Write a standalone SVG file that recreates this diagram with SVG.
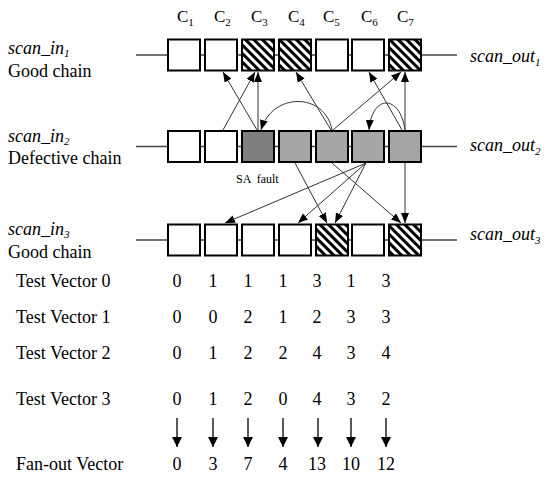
<svg xmlns="http://www.w3.org/2000/svg" width="550" height="481" viewBox="0 0 550 481">
<style>
text{font-family:"Liberation Serif","Times New Roman",serif;fill:#000}
.lbl{font-size:18px}
.it{font-size:18px;font-style:italic}
.sub{font-size:11px}
.hdr{font-size:17px}
.num{font-size:18px;text-anchor:middle}
.box{stroke:#000;stroke-width:2}
.w{fill:#fff}
.h{fill:url(#hatch)}
.d{fill:#7f7f7f}
.g{fill:#a6a6a6}
.chain{stroke:#444;stroke-width:1.3;fill:none}
.c{stroke:#333;stroke-width:1;fill:none;marker-end:url(#ah)}
.va{stroke:#000;stroke-width:1.3;marker-end:url(#ah2)}
</style>
<defs>
<pattern id="hatch" patternUnits="userSpaceOnUse" width="6" height="6" patternTransform="rotate(-45)">
<rect width="6" height="6" fill="#fff"/>
<rect width="3" height="6" fill="#000"/>
</pattern>
<marker id="ah" markerWidth="10" markerHeight="8" refX="10" refY="4" orient="auto" markerUnits="userSpaceOnUse">
<path d="M0,0 L10,4 L0,8 Z" fill="#000"/>
</marker>
<marker id="ah2" markerWidth="10" markerHeight="10" refX="10" refY="5" orient="auto" markerUnits="userSpaceOnUse">
<path d="M0,0 L10,5 L0,10 Z" fill="#000"/>
</marker>
</defs>

<g id="headers">
<text class="hdr" x="177" y="22">C<tspan class="sub" dy="4">1</tspan></text>
<text class="hdr" x="214" y="22">C<tspan class="sub" dy="4">2</tspan></text>
<text class="hdr" x="251" y="22">C<tspan class="sub" dy="4">3</tspan></text>
<text class="hdr" x="288" y="22">C<tspan class="sub" dy="4">4</tspan></text>
<text class="hdr" x="323" y="22">C<tspan class="sub" dy="4">5</tspan></text>
<text class="hdr" x="361" y="22">C<tspan class="sub" dy="4">6</tspan></text>
<text class="hdr" x="397" y="22">C<tspan class="sub" dy="4">7</tspan></text>
</g>

<g id="labels">
<text class="it" x="8" y="54">scan_in<tspan class="sub" dy="3">1</tspan></text>
<text class="lbl" x="8" y="77">Good chain</text>
<text class="it" x="8" y="142">scan_in<tspan class="sub" dy="3">2</tspan></text>
<text class="lbl" x="8" y="164">Defective chain</text>
<text class="it" x="8" y="235">scan_in<tspan class="sub" dy="3">3</tspan></text>
<text class="lbl" x="8" y="258">Good chain</text>
<text class="it" x="470" y="62">scan_out<tspan class="sub" dy="4">1</tspan></text>
<text class="it" x="470" y="151">scan_out<tspan class="sub" dy="4">2</tspan></text>
<text class="it" x="470" y="240">scan_out<tspan class="sub" dy="4">3</tspan></text>
<text x="236" y="183" style="font-size:12px;white-space:pre">SA  fault</text>
</g>

<g id="chains">
<line class="chain" x1="136" y1="55" x2="457" y2="55"/>
<line class="chain" x1="136" y1="146.5" x2="457" y2="146.5"/>
<line class="chain" x1="136" y1="240" x2="457" y2="240"/>
</g>

<g id="row1">
<rect class="box w" x="168" y="39.5" width="32" height="31"/>
<rect class="box w" x="205" y="39.5" width="32" height="31"/>
<rect class="box h" x="242" y="39.5" width="32" height="31"/>
<rect class="box h" x="279" y="39.5" width="32" height="31"/>
<rect class="box w" x="316" y="39.5" width="32" height="31"/>
<rect class="box w" x="352" y="39.5" width="32" height="31"/>
<rect class="box h" x="389" y="39.5" width="32" height="31"/>
</g>
<g id="row2">
<rect class="box w" x="168" y="131" width="32" height="31"/>
<rect class="box w" x="205" y="131" width="32" height="31"/>
<rect class="box d" x="242" y="131" width="32" height="31"/>
<rect class="box g" x="279" y="131" width="32" height="31"/>
<rect class="box g" x="316" y="131" width="32" height="31"/>
<rect class="box g" x="352" y="131" width="32" height="31"/>
<rect class="box g" x="389" y="131" width="32" height="31"/>
</g>
<g id="row3">
<rect class="box w" x="168" y="224.5" width="32" height="31"/>
<rect class="box w" x="205" y="224.5" width="32" height="31"/>
<rect class="box w" x="242" y="224.5" width="32" height="31"/>
<rect class="box w" x="279" y="224.5" width="32" height="31"/>
<rect class="box h" x="316" y="224.5" width="32" height="31"/>
<rect class="box w" x="352" y="224.5" width="32" height="31"/>
<rect class="box h" x="389" y="224.5" width="32" height="31"/>
</g>

<g id="connectors">
<line class="c" x1="223" y1="130" x2="255" y2="72"/>
<line class="c" x1="257" y1="130" x2="223" y2="72"/>
<line class="c" x1="258" y1="130" x2="258" y2="72"/>
<path class="c" d="M332,130 C325,92 272,92 261,130"/>
<line class="c" x1="331" y1="130" x2="296" y2="72"/>
<line class="c" x1="333" y1="130" x2="401" y2="72"/>
<path class="c" d="M405,130 C400,94 372,94 369,130"/>
<line class="c" x1="402" y1="130" x2="369" y2="72"/>
<line class="c" x1="405" y1="130" x2="405" y2="72"/>
<line class="c" x1="295" y1="163" x2="327" y2="223"/>
<line class="c" x1="332" y1="163" x2="401" y2="223"/>
<line class="c" x1="366" y1="163" x2="225" y2="223"/>
<line class="c" x1="366" y1="163" x2="298" y2="223"/>
<line class="c" x1="366" y1="163" x2="335" y2="223"/>
<line class="c" x1="405" y1="163" x2="405" y2="223"/>
</g>

<g id="vectors">
<text class="lbl" x="16" y="287">Test Vector 0</text>
<text class="lbl" x="16" y="323">Test Vector 1</text>
<text class="lbl" x="16" y="359">Test Vector 2</text>
<text class="lbl" x="16" y="405">Test Vector 3</text>
<text class="lbl" x="16" y="470">Fan-out Vector</text>
<g class="num">
<text class="num" x="177" y="287">0</text><text class="num" x="213" y="287">1</text><text class="num" x="248" y="287">1</text><text class="num" x="283" y="287">1</text><text class="num" x="317" y="287">3</text><text class="num" x="351" y="287">1</text><text class="num" x="386" y="287">3</text>
<text class="num" x="177" y="323">0</text><text class="num" x="213" y="323">0</text><text class="num" x="248" y="323">2</text><text class="num" x="283" y="323">1</text><text class="num" x="317" y="323">2</text><text class="num" x="351" y="323">3</text><text class="num" x="386" y="323">3</text>
<text class="num" x="177" y="359">0</text><text class="num" x="213" y="359">1</text><text class="num" x="248" y="359">2</text><text class="num" x="283" y="359">2</text><text class="num" x="317" y="359">4</text><text class="num" x="351" y="359">3</text><text class="num" x="386" y="359">4</text>
<text class="num" x="177" y="405">0</text><text class="num" x="213" y="405">1</text><text class="num" x="248" y="405">2</text><text class="num" x="283" y="405">0</text><text class="num" x="317" y="405">4</text><text class="num" x="351" y="405">3</text><text class="num" x="386" y="405">2</text>
<text class="num" x="177" y="470">0</text><text class="num" x="213" y="470">3</text><text class="num" x="248" y="470">7</text><text class="num" x="283" y="470">4</text><text class="num" x="317" y="470">13</text><text class="num" x="351" y="470">10</text><text class="num" x="386" y="470">12</text>
</g>
</g>
<g id="down-arrows">
<line class="va" x1="177" y1="418" x2="177" y2="447"/>
<line class="va" x1="213" y1="418" x2="213" y2="447"/>
<line class="va" x1="248" y1="418" x2="248" y2="447"/>
<line class="va" x1="283" y1="418" x2="283" y2="447"/>
<line class="va" x1="318" y1="418" x2="318" y2="447"/>
<line class="va" x1="351" y1="418" x2="351" y2="447"/>
<line class="va" x1="386" y1="418" x2="386" y2="447"/>
</g>
</svg>
